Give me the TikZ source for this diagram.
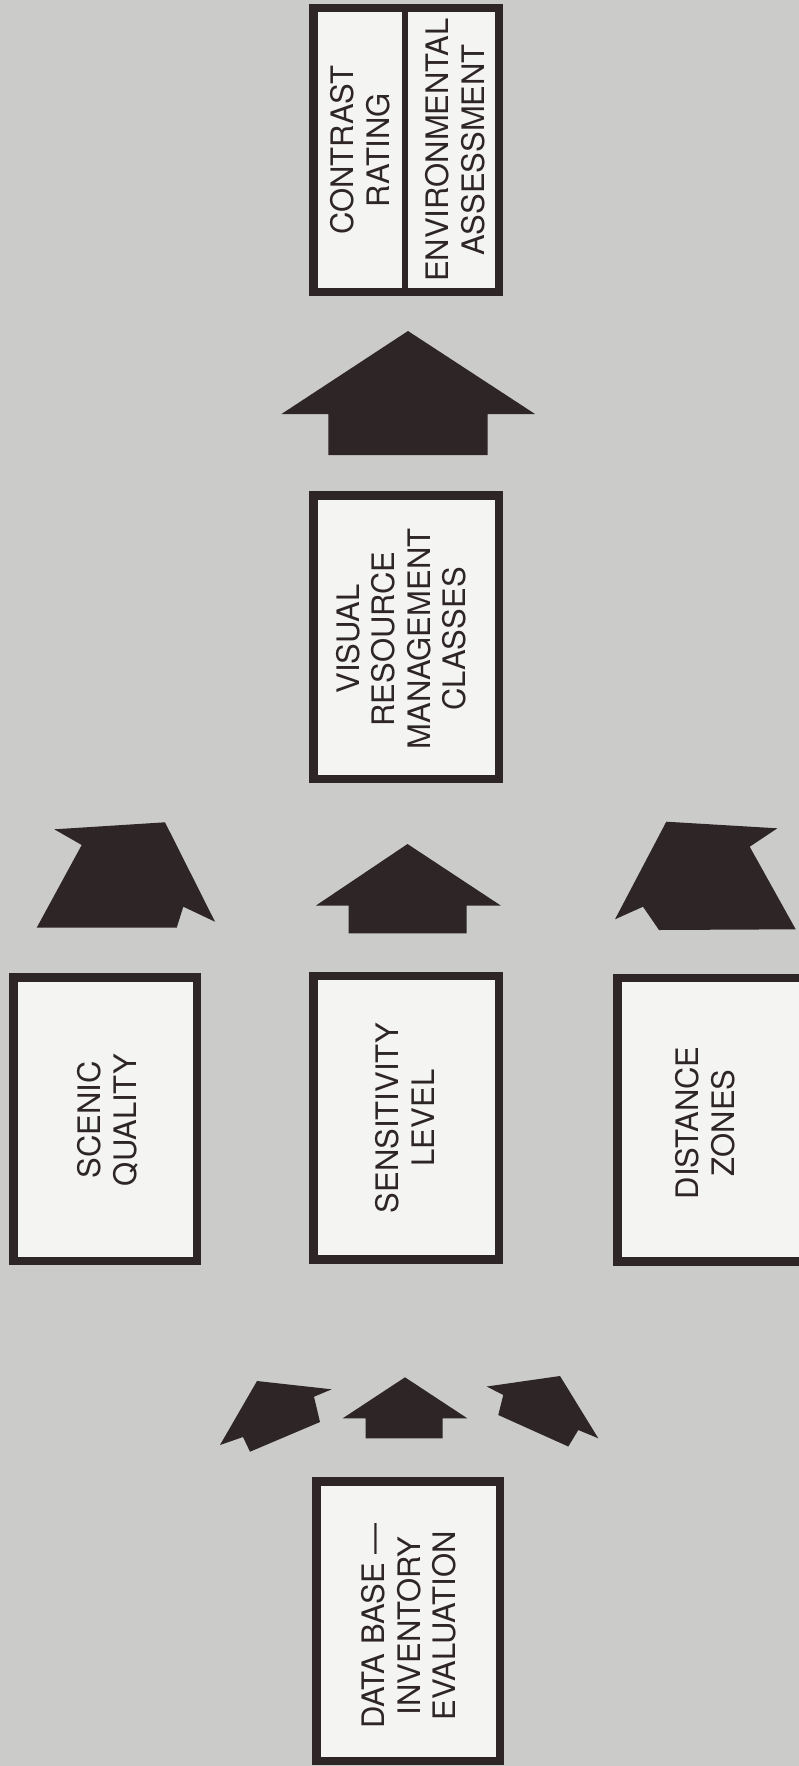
\documentclass[tikz,border=0pt]{standalone}
\usepackage{fontspec}
\setmainfont{TeX Gyre Heros}
\definecolor{bg}{RGB}{203,203,202}
\definecolor{paper}{RGB}{244,244,242}
\definecolor{ink}{RGB}{46,38,38}
\begin{document}
\begin{tikzpicture}[x=1pt,y=-1pt,
  box/.style={draw=ink, fill=paper, line width=8.5pt, inner sep=0pt,
              minimum width=185.5pt, minimum height=283.5pt},
  lbl/.style={text=ink, rotate=90, align=center, inner sep=0pt,
              font=\fontsize{31}{35.5}\selectfont},
  divider/.style={draw=ink, line width=6.5pt},
  blockarrow/.style={fill=ink}]
\useasboundingbox (0,0) rectangle (799,1766);
\clip (0,0) rectangle (799,1766);
\fill[bg] (0,0) rectangle (799,1766);

% boxes
\node[box] (cr) at (406,150) {};
\draw[divider] ([xshift=-1pt]cr.north) -- ([xshift=-1pt]cr.south);
\node[box] (vrm) at (406,637) {};
\node[box, minimum width=183.5pt] (sq) at (105,1119) {};
\node[box] (sl) at (406,1117.5) {};
\node[box] (dz) at (710,1119.5) {};
\node[box, minimum width=183.5pt, minimum height=279.5pt] (db) at (408,1621) {};

% labels
\node[lbl] (crt) at (360,150) {CONTRAST\\RATING};
\node[lbl] (eat) at (455,150) {ENVIRONMENTAL\\ASSESSMENT};
\node[lbl] (vrmt) at (401,639) {VISUAL\\RESOURCE\\MANAGEMENT\\CLASSES};
\node[lbl] (sqt) at (108,1120) {SCENIC\\QUALITY};
\node[lbl] (slt) at (405,1118) {SENSITIVITY\\LEVEL};
\node[lbl] (dzt) at (705,1123) {DISTANCE\\ZONES};
\node[lbl] (dbt) at (409,1626) {DATA BASE —\\INVENTORY\\EVALUATION};

% big arrow between VRM and contrast box
\fill[blockarrow] (408,331) -- (535,414) -- (487.7,414) -- (487.7,455)
  -- (328.3,455) -- (328.3,414) -- (281.5,414) -- cycle;

% three arrows into VRM
\fill[blockarrow] (54.3,829.3) -- (165,822.3) -- (215,921.7) -- (183.3,906.7)
  -- (176.7,927.7) -- (36.7,927.7) -- (81.7,845) -- cycle;
\fill[blockarrow] (407.5,844) -- (500.7,905.5) -- (466.7,905.5) -- (466.7,933.3)
  -- (348.7,933.3) -- (348.7,905.5) -- (316,905.5) -- cycle;
\fill[blockarrow] (666.3,821.7) -- (777.3,828.3) -- (749.7,846.7) -- (795.7,929.3)
  -- (659,930) -- (643,906.7) -- (615,919.3) -- cycle;

% three small arrows from data base
\fill[blockarrow] (257,1381) -- (331.7,1389.3) -- (314,1396.7) -- (320,1422)
  -- (250,1451.7) -- (243,1437) -- (220,1445) -- cycle;
\fill[blockarrow] (405,1377.3) -- (467.3,1418.3) -- (442.7,1418.3) -- (442.7,1438.3)
  -- (365.7,1438.3) -- (365.7,1418.3) -- (342.7,1418.3) -- cycle;
\fill[blockarrow] (560,1376) -- (598.3,1438.3) -- (578.3,1430) -- (568.3,1446.5)
  -- (498.3,1415) -- (503.3,1395) -- (486.7,1386.5) -- cycle;
\end{tikzpicture}
\end{document}
